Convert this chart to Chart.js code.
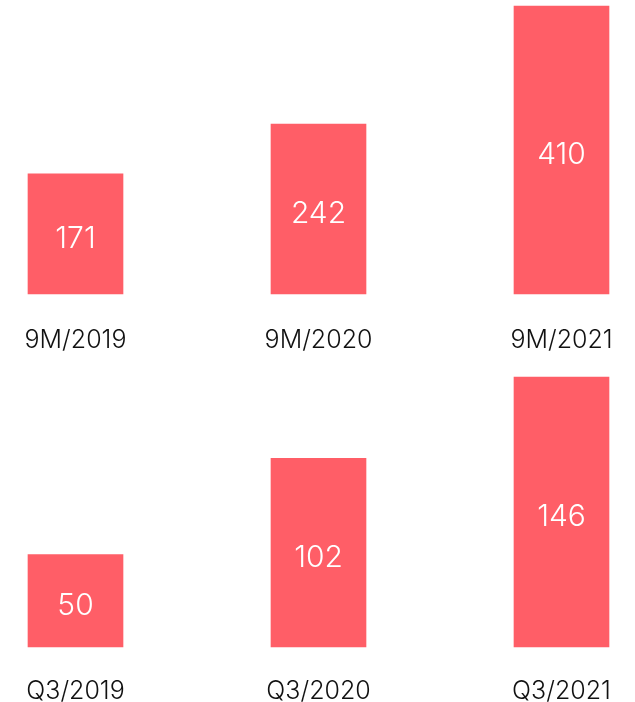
<!DOCTYPE html>
<html>
<head>
<meta charset="utf-8">
<script src="https://cdn.jsdelivr.net/npm/chart.js@4"></script>
<style>
    html, body { margin: 0; padding: 0; background: #fff; overflow: hidden; width: 635px; height: 702px; }
    .wrap { position: absolute; left: 0; width: 635px; }
    #topWrap { top: 0; height: 386px; }
    #bottomWrap { top: 340px; height: 395px; }
</style>
</head>
<body>
<div class="wrap" id="topWrap"><canvas id="ninemChart"></canvas></div>
<div class="wrap" id="bottomWrap"><canvas id="q3Chart"></canvas></div>
<script>
const ninemLabels = ['9M/2019', '9M/2020', '9M/2021'];
const ninemValues = [171, 242, 410];
const q3Labels = ['Q3/2019', 'Q3/2020', 'Q3/2021'];
const q3Values = [50, 102, 146];

const barColor = '#ff5e67';
const fontFamily = 'Inter, Lato, "Noto Sans", sans-serif';

// white value labels in the middle of each bar
const valueLabels = {
    id: 'valueLabels',
    afterDatasetsDraw(chart) {
        const ctx = chart.ctx;
        const meta = chart.getDatasetMeta(0);
        ctx.save();
        ctx.fillStyle = '#ffffff';
        ctx.font = '300 30px ' + fontFamily;
        ctx.textAlign = 'center';
        ctx.textBaseline = 'middle';
        meta.data.forEach((bar, i) => {
            const v = chart.data.datasets[0].data[i];
            ctx.fillText(String(v), bar.x, (bar.y + bar.base) / 2 + 5);
        });
        ctx.restore();
    }
};

function makeChart(id, labels, values, maxVal, pad, tickPad) {
    const ctx = document.getElementById(id).getContext('2d');
    return new Chart(ctx, {
        type: 'bar',
        data: {
            labels: labels,
            datasets: [{
                data: values,
                backgroundColor: barColor,
                barThickness: 95,
                clip: false
            }]
        },
        options: {
            responsive: true,
            maintainAspectRatio: false,
            animation: false,
            layout: { padding: pad },
            plugins: { legend: { display: false }, tooltip: { enabled: false } },
            scales: {
                x: {
                    offset: false,
                    grid: { display: false, drawTicks: false },
                    border: { display: false },
                    ticks: {
                        color: '#111111',
                        padding: tickPad,
                        maxRotation: 0,
                        font: { family: fontFamily, size: 25, weight: '300' }
                    },
                    // labels fit in the layout padding, don't let them widen it
                    afterFit(scale) {
                        scale.paddingLeft = 0;
                        scale.paddingRight = 0;
                    }
                },
                y: {
                    display: false,
                    min: 0,
                    max: maxVal
                }
            }
        },
        plugins: [valueLabels]
    });
}

makeChart('ninemChart', ninemLabels, ninemValues, 410, { top: 6, left: 75.5, right: 73.5, bottom: 0 }, 31);
makeChart('q3Chart', q3Labels, q3Values, 146, { top: 37, left: 75.5, right: 73.5, bottom: 0 }, 29);
</script>
</body>
</html>
